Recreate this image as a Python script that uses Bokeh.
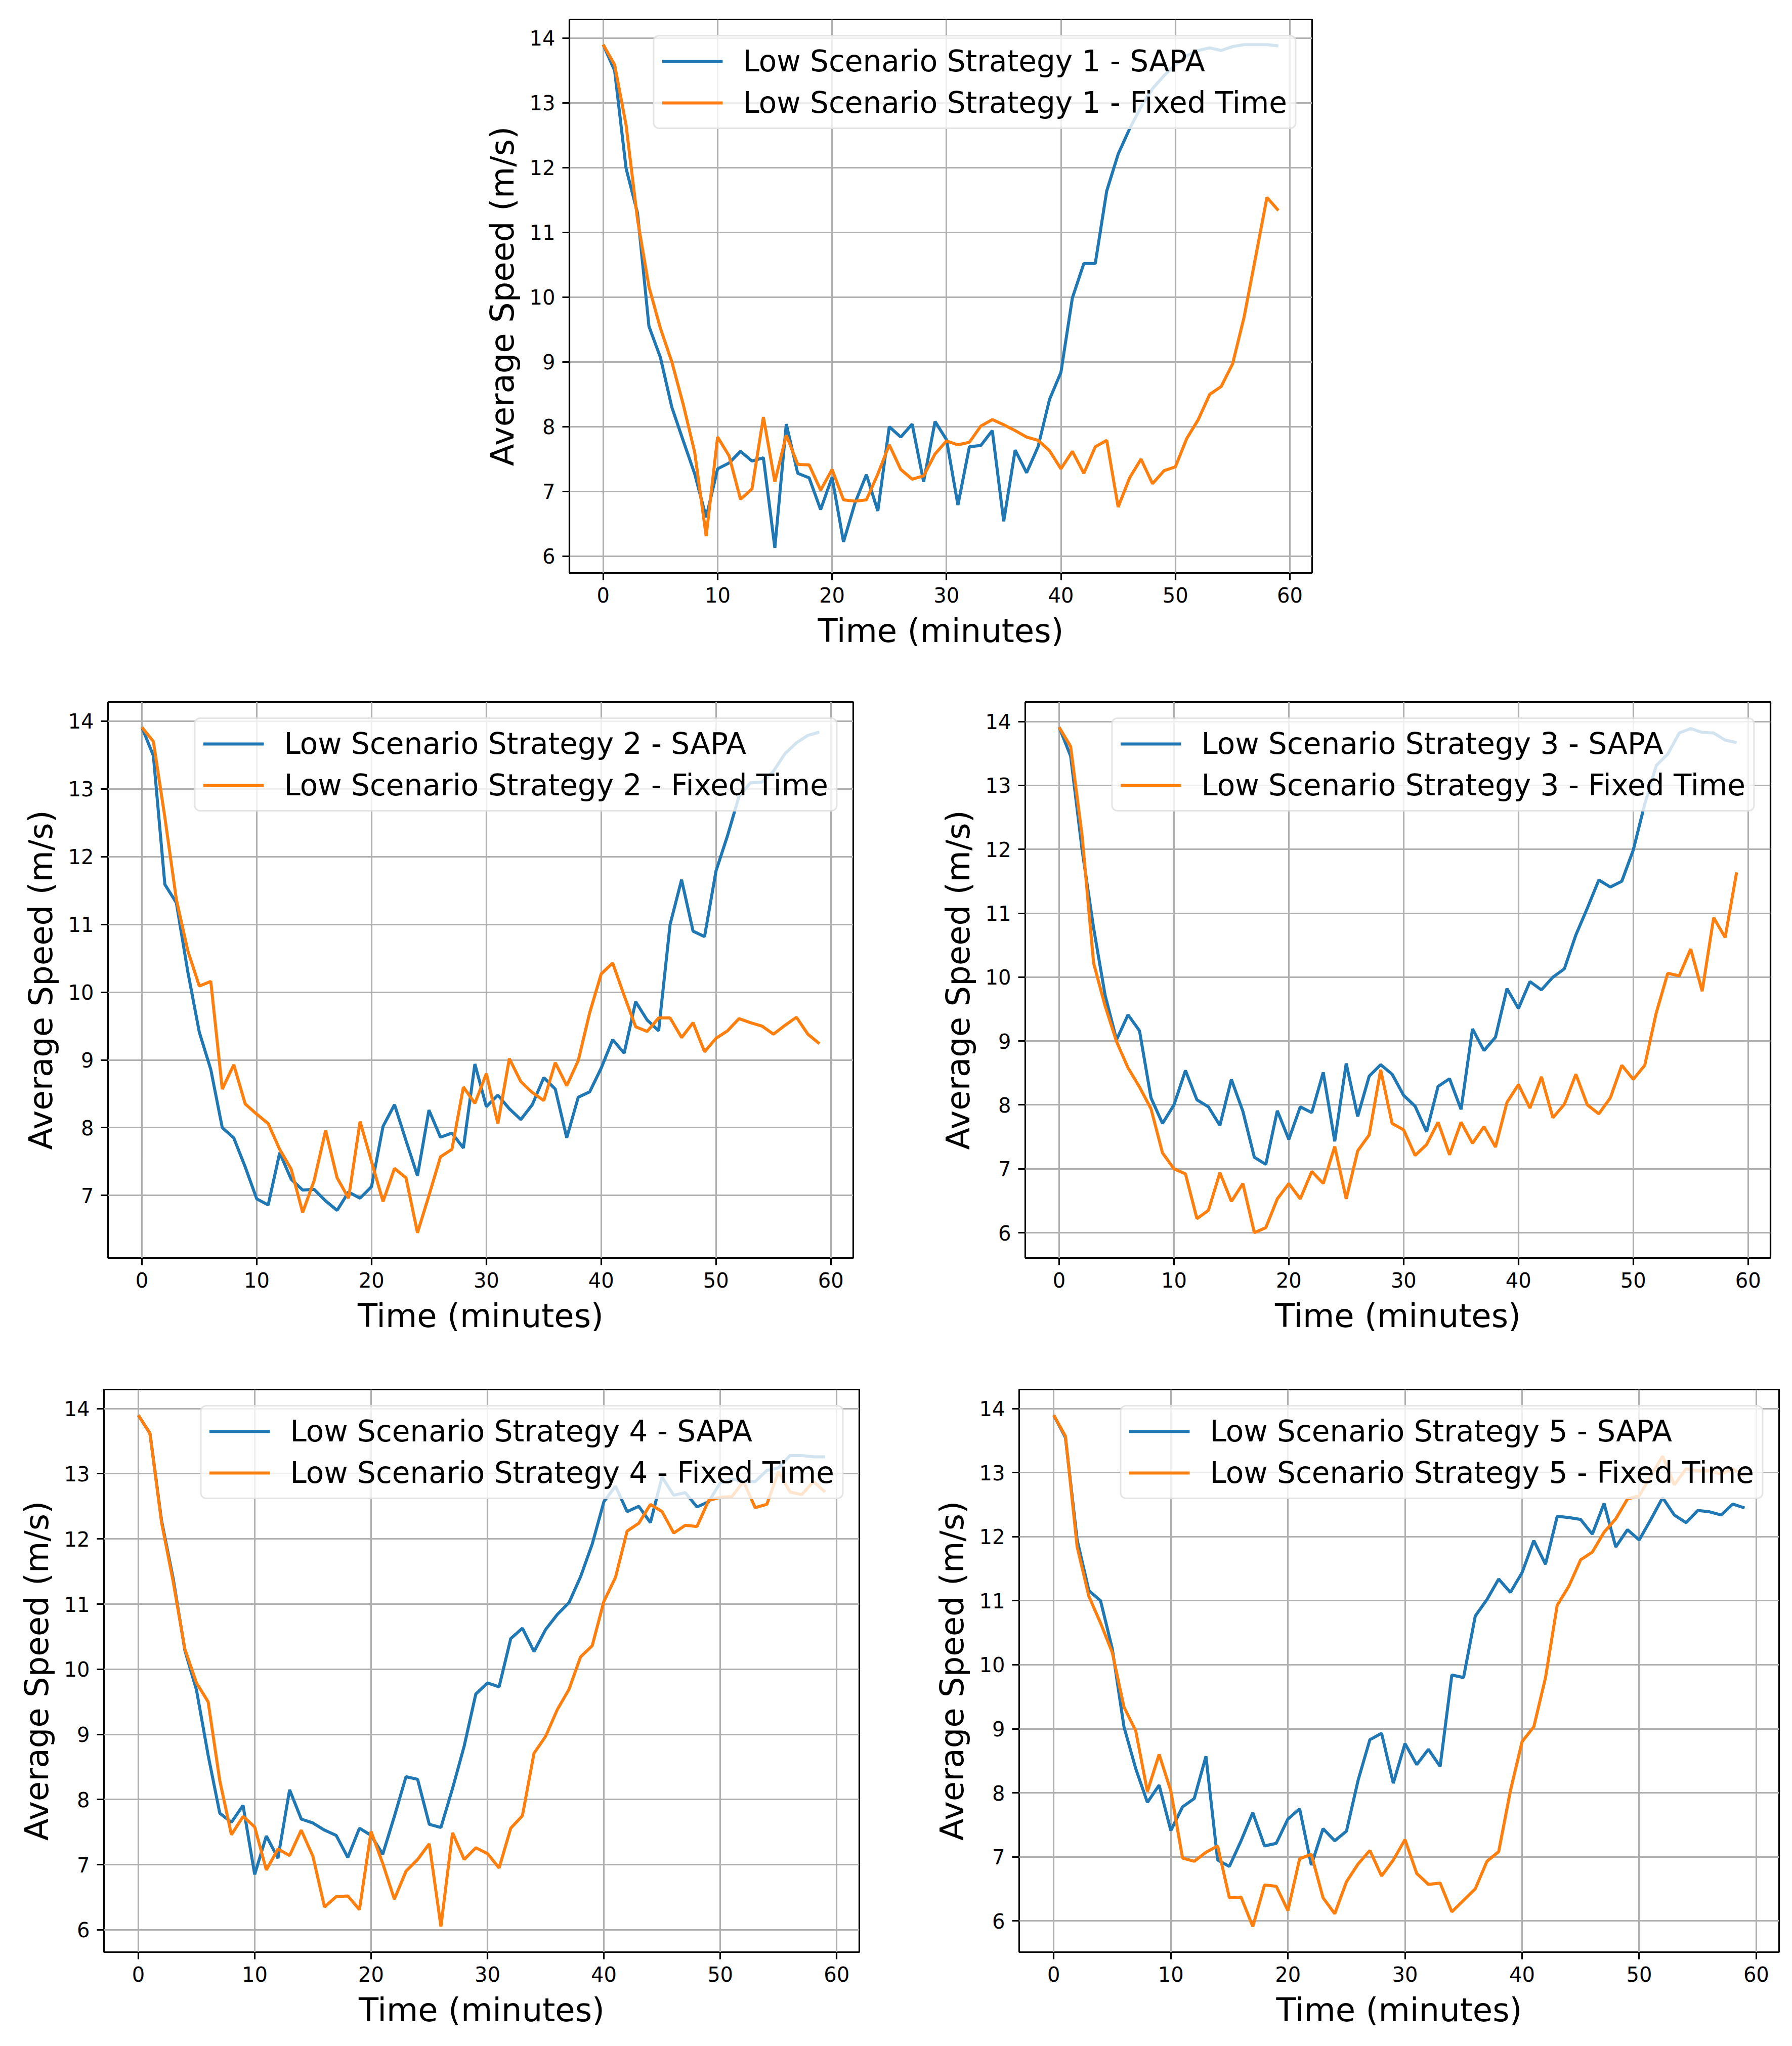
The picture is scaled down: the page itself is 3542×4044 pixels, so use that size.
from bokeh.plotting import figure
from bokeh.layouts import column, row
from bokeh.models import Spacer, FixedTicker, Range1d
from bokeh.embed import file_html
from bokeh.resources import INLINE

minutes = list(range(60))
x_ticks = [0, 10, 20, 30, 40, 50, 60]
y_ticks = [6, 7, 8, 9, 10, 11, 12, 13, 14]

s1_sapa = [13.90, 13.50, 11.99, 11.30, 9.55, 9.07, 8.30, 7.78, 7.27, 6.60,
           7.35, 7.44, 7.62, 7.47, 7.52, 6.13, 8.04, 7.28, 7.21, 6.72,
           7.22, 6.22, 6.82, 7.26, 6.70, 8.00, 7.84, 8.04, 7.15, 8.08,
           7.80, 6.79, 7.69, 7.71, 7.94, 6.54, 7.64, 7.29, 7.69, 8.42,
           8.84, 9.99, 10.52, 10.52, 11.64, 12.21, 12.60, 12.94, 13.22, 13.42,
           13.59, 13.73, 13.81, 13.85, 13.81, 13.87, 13.90, 13.90, 13.90, 13.88]
s1_fixed = [13.90, 13.59, 12.66, 11.20, 10.16, 9.52, 9.00, 8.34, 7.60, 6.31,
            7.84, 7.55, 6.88, 7.04, 8.15, 7.15, 7.87, 7.42, 7.41, 7.02,
            7.34, 6.87, 6.85, 6.87, 7.27, 7.72, 7.34, 7.19, 7.24, 7.58,
            7.78, 7.72, 7.76, 8.01, 8.11, 8.03, 7.94, 7.84, 7.79, 7.63,
            7.35, 7.62, 7.28, 7.69, 7.79, 6.76, 7.21, 7.50, 7.12, 7.32,
            7.38, 7.82, 8.11, 8.50, 8.62, 8.97, 9.69, 10.61, 11.54, 11.34]

s2_sapa = [13.91, 13.49, 11.59, 11.32, 10.30, 9.41, 8.86, 8.00, 7.85, 7.42,
           6.95, 6.86, 7.63, 7.24, 7.08, 7.09, 6.92, 6.78, 7.05, 6.96,
           7.13, 8.02, 8.34, 7.81, 7.29, 8.26, 7.86, 7.92, 7.70, 8.94,
           8.31, 8.48, 8.28, 8.12, 8.34, 8.74, 8.57, 7.85, 8.45, 8.53,
           8.88, 9.30, 9.10, 9.86, 9.59, 9.43, 11.00, 11.66, 10.90, 10.82,
           11.79, 12.31, 12.89, 13.09, 13.10, 13.26, 13.52, 13.68, 13.79, 13.84]
s2_fixed = [13.91, 13.70, 12.58, 11.37, 10.61, 10.09, 10.16, 8.57, 8.93, 8.35,
            8.20, 8.06, 7.68, 7.39, 6.75, 7.22, 7.96, 7.26, 6.96, 8.09,
            7.50, 6.91, 7.40, 7.26, 6.45, 7.00, 7.57, 7.68, 8.60, 8.36,
            8.80, 8.06, 9.02, 8.68, 8.52, 8.40, 8.96, 8.62, 8.99, 9.70,
            10.27, 10.43, 9.95, 9.49, 9.42, 9.62, 9.62, 9.33, 9.55, 9.12,
            9.32, 9.43, 9.61, 9.55, 9.50, 9.38, 9.51, 9.63, 9.38, 9.24]

s3_sapa = [13.91, 13.46, 11.99, 10.77, 9.72, 9.02, 9.41, 9.16, 8.11, 7.71,
           8.00, 8.54, 8.08, 7.97, 7.68, 8.40, 7.90, 7.18, 7.07, 7.91,
           7.46, 7.97, 7.88, 8.51, 7.43, 8.65, 7.82, 8.45, 8.63, 8.48,
           8.15, 7.98, 7.58, 8.29, 8.41, 7.93, 9.19, 8.85, 9.06, 9.82,
           9.51, 9.93, 9.80, 10.00, 10.13, 10.66, 11.08, 11.52, 11.41, 11.50,
           11.99, 12.71, 13.31, 13.49, 13.82, 13.89, 13.83, 13.82, 13.71, 13.67]
s3_fixed = [13.91, 13.61, 12.21, 10.22, 9.55, 8.99, 8.58, 8.28, 7.94, 7.25,
            7.00, 6.92, 6.22, 6.35, 6.94, 6.49, 6.77, 6.00, 6.08, 6.53,
            6.77, 6.53, 6.96, 6.77, 7.35, 6.53, 7.28, 7.53, 8.55, 7.71,
            7.61, 7.21, 7.38, 7.73, 7.22, 7.73, 7.40, 7.66, 7.34, 8.04,
            8.32, 7.95, 8.44, 7.80, 8.01, 8.48, 8.00, 7.86, 8.11, 8.62,
            8.40, 8.62, 9.44, 10.06, 10.02, 10.44, 9.78, 10.93, 10.62, 11.64]

s4_sapa = [13.90, 13.62, 12.28, 11.39, 10.29, 9.68, 8.68, 7.79, 7.65, 7.91,
           6.85, 7.44, 7.10, 8.15, 7.70, 7.64, 7.53, 7.45, 7.11, 7.56,
           7.45, 7.16, 7.74, 8.35, 8.31, 7.62, 7.57, 8.17, 8.82, 9.62,
           9.79, 9.73, 10.47, 10.63, 10.27, 10.61, 10.84, 11.02, 11.42, 11.92,
           12.57, 12.81, 12.42, 12.50, 12.25, 12.95, 12.67, 12.71, 12.49, 12.57,
           12.86, 12.92, 12.88, 12.88, 13.05, 13.09, 13.28, 13.28, 13.26, 13.26]
s4_fixed = [13.90, 13.62, 12.25, 11.34, 10.31, 9.79, 9.50, 8.29, 7.46, 7.74,
            7.58, 6.92, 7.24, 7.14, 7.53, 7.13, 6.35, 6.51, 6.52, 6.31,
            7.51, 7.02, 6.47, 6.90, 7.08, 7.32, 6.05, 7.49, 7.08, 7.26,
            7.17, 6.95, 7.56, 7.75, 8.71, 8.97, 9.38, 9.69, 10.19, 10.36,
            11.04, 11.41, 12.12, 12.24, 12.53, 12.42, 12.09, 12.21, 12.19, 12.59,
            12.64, 12.65, 12.88, 12.48, 12.53, 13.03, 12.72, 12.68, 12.88, 12.72]

s5_sapa = [13.90, 13.55, 11.95, 11.16, 11.00, 10.25, 9.03, 8.38, 7.85, 8.12,
           7.41, 7.78, 7.91, 8.57, 6.95, 6.85, 7.25, 7.69, 7.17, 7.21,
           7.59, 7.75, 6.87, 7.44, 7.25, 7.40, 8.20, 8.83, 8.93, 8.15,
           8.77, 8.44, 8.68, 8.41, 9.84, 9.80, 10.76, 11.02, 11.34, 11.13,
           11.44, 11.94, 11.57, 12.32, 12.30, 12.27, 12.04, 12.52, 11.84, 12.11,
           11.95, 12.27, 12.61, 12.34, 12.22, 12.41, 12.39, 12.34, 12.51, 12.45]
s5_fixed = [13.90, 13.57, 11.84, 11.07, 10.65, 10.19, 9.34, 8.97, 8.02, 8.60,
            8.03, 6.98, 6.93, 7.07, 7.17, 6.36, 6.37, 5.91, 6.56, 6.54,
            6.16, 6.97, 7.04, 6.36, 6.11, 6.61, 6.89, 7.10, 6.70, 6.95,
            7.27, 6.74, 6.57, 6.59, 6.14, 6.32, 6.50, 6.93, 7.08, 8.03,
            8.80, 9.03, 9.80, 10.93, 11.23, 11.64, 11.76, 12.07, 12.28, 12.59,
            12.64, 12.95, 13.26, 12.81, 13.06, 13.03, 13.03, 12.98, 13.06, 12.95]

x_label = "Time (minutes)"
y_label = "Average Speed (m/s)"
series_names = ["SAPA", "Fixed Time"]
BLUE = "#1f77b4"
ORANGE = "#ff7f0e"
FONT = "DejaVu Sans"


def make_panel(k, sapa, fixed, fw, fh, bl, br, bt, bb):
    xlo, xhi = min(minutes), max(minutes)
    xpad = 0.05 * (xhi - xlo)
    ylo = min(min(sapa), min(fixed))
    yhi = max(max(sapa), max(fixed))
    ypad = 0.05 * (yhi - ylo)
    p = figure(width=bl + fw + br, height=bt + fh + bb,
               x_range=Range1d(xlo - xpad, xhi + xpad),
               y_range=Range1d(ylo - ypad, yhi + ypad),
               output_backend="svg", toolbar_location=None,
               min_border_left=bl, min_border_right=br,
               min_border_top=bt, min_border_bottom=bb)
    p.line(minutes, sapa, line_color=BLUE, line_width=6,
           legend_label=f"Low Scenario Strategy {k} - {series_names[0]}")
    p.line(minutes, fixed, line_color=ORANGE, line_width=6,
           legend_label=f"Low Scenario Strategy {k} - {series_names[1]}")

    p.background_fill_color = "white"
    p.border_fill_color = "white"
    p.outline_line_color = "black"
    p.outline_line_width = 3.2
    p.outline_line_alpha = 1.0

    p.xaxis.ticker = FixedTicker(ticks=x_ticks)
    p.yaxis.ticker = FixedTicker(ticks=y_ticks)
    for ax in (p.xaxis[0], p.yaxis[0]):
        ax.axis_line_color = None
        ax.major_tick_out = 14
        ax.major_tick_in = 0
        ax.major_tick_line_width = 3.2
        ax.major_tick_line_color = "black"
        ax.minor_tick_line_color = None
        ax.major_label_text_font = FONT
        ax.major_label_text_font_size = "40px"
        ax.major_label_text_color = "black"
        ax.major_label_standoff = 14
        ax.axis_label_text_font = FONT
        ax.axis_label_text_font_size = "64px"
        ax.axis_label_text_font_style = "normal"
        ax.axis_label_text_color = "black"
    p.xaxis.axis_label = x_label
    p.yaxis.axis_label = y_label
    p.xaxis.axis_label_standoff = 16
    p.yaxis.axis_label_standoff = 14

    for g in (p.xgrid[0], p.ygrid[0]):
        g.grid_line_color = "#b0b0b0"
        g.grid_line_width = 3.2

    lg = p.legend[0]
    lg.location = "top_right"
    lg.margin = 31
    lg.label_text_font = FONT
    lg.label_text_font_size = "58px"
    lg.label_text_color = "black"
    lg.glyph_width = 120
    lg.glyph_height = 66
    lg.label_height = 66
    lg.label_standoff = 40
    lg.padding = 15
    lg.spacing = 14
    lg.border_line_color = "#cccccc"
    lg.border_line_width = 3
    lg.background_fill_color = "white"
    lg.background_fill_alpha = 0.8
    if "border_radius" in lg.properties():
        lg.border_radius = 12
    return p


p1 = make_panel(1, s1_sapa, s1_fixed, 1468, 1094, 260, 30, 38, 194)
p2 = make_panel(2, s2_sapa, s2_fixed, 1473, 1100, 213, 30, 60, 200)
p3 = make_panel(3, s3_sapa, s3_fixed, 1473, 1101, 310, 25, 61, 198)
p4 = make_panel(4, s4_sapa, s4_fixed, 1493, 1112, 205, 30, 60, 170)
p5 = make_panel(5, s5_sapa, s5_fixed, 1502, 1116, 286, 12, 59, 167)

layout = column(
    row(Spacer(width=865, height=10), p1, spacing=0),
    row(p2, p3, spacing=0),
    row(p4, p5, spacing=0),
    spacing=0,
)

open("out.html", "w").write(file_html(layout, INLINE))
